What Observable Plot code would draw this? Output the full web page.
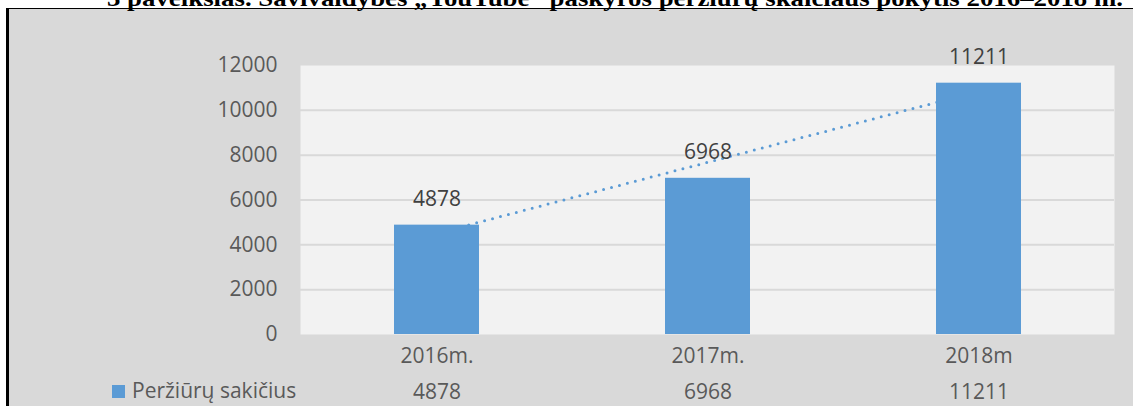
<!DOCTYPE html>
<html>
<head>
<meta charset="utf-8">
<script src="https://cdn.jsdelivr.net/npm/d3@7"></script>
<script src="https://cdn.jsdelivr.net/npm/@observablehq/plot@0.6"></script>
<style>
  html, body { margin: 0; padding: 0; }
  body { width: 1133px; height: 406px; overflow: hidden; background: #ffffff; position: relative; font-family: "Open Sans", sans-serif; }
  #frame { position: absolute; left: 6px; top: 8px; width: 1200px; height: 500px; background: #d9d9d9; border-left: 3px solid #000; border-top: 1.5px solid #000; }
  #chart { position: absolute; left: 0; top: 0; }
  #title { position: absolute; left: 0; top: 0; }
  #legend-swatch { position: absolute; left: 112px; top: 385px; width: 13px; height: 13px; background: #5b9bd5; }
  #legend-text { position: absolute; left: 132px; top: 380px; font-size: 21px; line-height: 21px; color: #595959; white-space: nowrap; }
</style>
</head>
<body>
<div id="frame"></div>
<div id="chart"></div>
<div id="legend-swatch"></div>
<div id="legend-text"></div>
<svg id="title" width="1133" height="30"></svg>
<script>
const titleText = "3 paveikslas. Savivaldybės „YouTube“ paskyros peržiūrų skaičiaus pokytis 2016–2018 m.";
const categories = ["2016m.", "2017m.", "2018m"];
const values = [4878, 6968, 11211];
const seriesName = "Peržiūrų sakičius";
const yTicks = [0, 2000, 4000, 6000, 8000, 10000, 12000];

const data = categories.map((c, i) => ({cat: c, value: values[i]}));

// linear trend line (least squares over category index)
const xs = values.map((_, i) => i);
const mx = d3.mean(xs), my = d3.mean(values);
const slope = d3.sum(xs, (x, i) => (x - mx) * (values[i] - my)) / d3.sum(xs, x => (x - mx) ** 2);
const trend = categories.map((c, i) => ({cat: c, value: my + slope * (i - mx)}));

const chart = Plot.plot({
  width: 1133,
  height: 406,
  marginLeft: 300,
  marginRight: 19,
  marginTop: 65,
  marginBottom: 72,
  style: {background: "transparent", fontFamily: "'Open Sans', sans-serif", fontSize: "21px", color: "#595959", overflow: "visible"},
  x: {domain: categories, paddingInner: 0.687, paddingOuter: 0.3435, axis: null},
  y: {domain: [0, 12000], axis: null},
  marks: [
    Plot.frame({fill: "#f2f2f2", stroke: "none"}),
    Plot.ruleY(yTicks.filter(d => d > 0 && d < 12000), {stroke: "#d9d9d9", strokeWidth: 2}),
    Plot.axisY(yTicks, {tickSize: 0, tickPadding: 23, fill: "#595959", fontSize: 21, label: null, tickFormat: d => String(d)}),
    Plot.line(trend, {x: "cat", y: "value", stroke: "#5b9bd5", strokeWidth: 3, strokeDasharray: "0 8.2", strokeLinecap: "round"}),
    Plot.barY(data, {x: "cat", y: "value", fill: "#5b9bd5"}),
    Plot.text(data, {x: "cat", y: "value", text: d => String(d.value), dy: -26, fill: "#404040", fontSize: 21}),
    Plot.axisX({tickSize: 0, tickPadding: 14, fill: "#595959", fontSize: 21, label: null}),
    Plot.text(data, {x: "cat", text: d => String(d.value), frameAnchor: "bottom", lineAnchor: "middle", dy: 58, fill: "#595959", fontSize: 21})
  ]
});
document.getElementById("chart").appendChild(chart);
document.getElementById("legend-text").textContent = seriesName;

const t = document.createElementNS("http://www.w3.org/2000/svg", "text");
t.setAttribute("x", 107);
t.setAttribute("y", 6);
t.setAttribute("font-family", "'Liberation Serif', 'Times New Roman', serif");
t.setAttribute("font-weight", "bold");
t.setAttribute("font-size", 23);
t.setAttribute("textLength", 1016);
t.setAttribute("lengthAdjust", "spacingAndGlyphs");
t.setAttribute("fill", "#000");
t.textContent = titleText;
document.getElementById("title").appendChild(t);
</script>
</body>
</html>
